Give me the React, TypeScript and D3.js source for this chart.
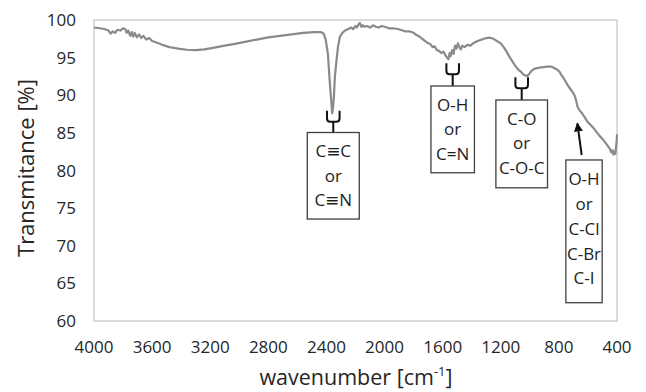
import React from "react";
import * as d3 from "d3";

const wavenumbers: number[] = [
  4000, 3960, 3930, 3900, 3885, 3870, 3855, 3840, 3820, 3800, 3785, 3775, 3765, 3750, 3740, 3730, 3720, 3705, 3690, 3675,
  3660, 3640, 3620, 3600, 3570, 3530, 3480, 3420, 3360, 3300, 3240, 3180, 3100, 3040, 2960, 2880, 2800, 2720, 2640, 2560,
  2480, 2440, 2420, 2405, 2390, 2378, 2368, 2360, 2354, 2348, 2342, 2334, 2320, 2307, 2290, 2272, 2250, 2230, 2215, 2200,
  2190, 2180, 2170, 2160, 2150, 2140, 2120, 2100, 2080, 2060, 2040, 2020, 2000, 1970, 1940, 1910, 1890, 1860, 1830, 1800,
  1780, 1760, 1740, 1720, 1700, 1685, 1670, 1655, 1640, 1625, 1610, 1595, 1580, 1570, 1560, 1552, 1545, 1535, 1525, 1515,
  1505, 1495, 1485, 1475, 1465, 1450, 1430, 1410, 1390, 1360, 1330, 1300, 1275, 1250, 1225, 1200, 1180, 1160, 1140, 1120,
  1100, 1080, 1060, 1040, 1020, 1005, 990, 970, 950, 920, 880, 850, 830, 810, 795, 780, 765, 750, 735, 720,
  705, 690, 680, 672, 664, 655, 640, 620, 600, 580, 560, 540, 520, 500, 480, 465, 450, 440, 430, 425,
  418, 412, 406, 402, 400,
];

const transmittance: number[] = [
  99.0, 98.9, 98.8, 98.6, 98.2, 98.5, 98.3, 98.7, 98.6, 98.9, 98.8, 98.3, 98.6, 97.9, 98.4, 97.8, 98.3, 97.7, 98.1, 97.6,
  97.9, 97.4, 97.6, 97.2, 97.0, 96.7, 96.4, 96.2, 96.05, 96.0, 96.1, 96.3, 96.6, 96.8, 97.1, 97.4, 97.7, 97.9, 98.1, 98.3,
  98.4, 98.4, 98.2, 97.4, 95.5, 92.0, 89.5, 87.6, 88.5, 90.0, 92.5, 94.0, 96.5, 97.8, 98.3, 98.6, 98.8, 99.0, 98.8, 99.2,
  99.0, 99.4, 99.6, 99.1, 99.3, 99.1, 99.2, 99.0, 99.3, 99.1, 99.0, 99.2, 99.1, 98.9, 98.9, 98.8, 98.7, 98.5, 98.5, 98.3,
  98.0, 97.8, 97.5, 97.2, 96.9, 96.8, 96.4, 96.5, 96.0, 95.9, 95.6, 95.8, 95.3, 95.0, 94.8, 95.6, 95.2, 96.0, 95.5, 96.6,
  96.2, 96.9, 96.4, 96.1, 96.6, 96.4, 96.7, 96.6, 96.9, 97.2, 97.4, 97.6, 97.65, 97.5, 97.2, 96.9, 96.4, 95.8, 95.1, 94.5,
  93.9, 93.4, 93.1, 92.7, 92.55, 92.8, 93.2, 93.5, 93.6, 93.7, 93.8, 93.8, 93.6, 93.4, 93.1, 92.6, 92.2, 91.7, 91.2, 90.8,
  90.4, 89.9, 89.2, 88.5, 88.2, 87.9, 87.6, 87.0, 86.4, 86.0, 85.6, 85.1, 84.6, 84.2, 83.7, 83.3, 82.9, 82.4, 82.7, 82.1,
  82.5, 82.2, 83.2, 84.0, 84.8,
];

const xTicks: number[] = [4000, 3600, 3200, 2800, 2400, 2000, 1600, 1200, 800, 400];
const yTicks: number[] = [60, 65, 70, 75, 80, 85, 90, 95, 100];

// fork annotations: wavenumber of fork, transmittance of fork top, box top, box bottom, text lines
const forkWn: number[] = [2353, 1531, 1056];
const forkTopT: number[] = [87.95, 94.25, 92.4];
const boxTopT: number[] = [85.05, 91.23, 89.37];
const boxBottomT: number[] = [73.55, 79.7, 77.7];
const forkLabels: string[][] = [
  ["C≡C", "or", "C≡N"],
  ["O-H", "or", "C=N"],
  ["C-O", "or", "C-O-C"],
];
// arrow annotation
const arrowTip = { wn: 673, t: 86.27 };
const arrowTail = { wn: 643, t: 82.06 };
const arrowBoxWn = 627;
const arrowBoxTopT = 81.4;
const arrowBoxBottomT = 62.43;
const arrowLabels: string[] = ["O-H", "or", "C-Cl", "C-Br", "C-I"];

const W = 646;
const H = 392;
const plot = { left: 94, right: 617, top: 20, bottom: 321 };
const boxWidths = [52, 43.5, 51.6];
const arrowBoxWidth = 36.3;
const FONT = "'Open Sans', 'DejaVu Sans', sans-serif";

export default function App() {
  const x = d3.scaleLinear().domain([4000, 400]).range([plot.left, plot.right]);
  const y = d3.scaleLinear().domain([60, 100]).range([plot.bottom, plot.top]);
  const pts: [number, number][] = wavenumbers.map((w, i) => [w, transmittance[i]]);
  const line = d3
    .line<[number, number]>()
    .x((d) => x(d[0]))
    .y((d) => y(d[1]))
    .curve(d3.curveLinear);

  const lineGap = 24.5;
  const firstOffset = 18.8;

  return (
    <svg
      width={W}
      height={H}
      style={{ position: "absolute", left: 0, top: 0, background: "#fff" }}
      fontFamily={FONT}
    >
      <defs>
        <marker id="ah" viewBox="0 0 10 10" refX="9" refY="5" markerWidth="4.5" markerHeight="5" orient="auto">
          <path d="M0,0 L10,5 L0,10 z" fill="#111" />
        </marker>
      </defs>
      <rect
        x={plot.left}
        y={plot.top}
        width={plot.right - plot.left}
        height={plot.bottom - plot.top}
        fill="none"
        stroke="#c4c4c4"
        strokeWidth={1.2}
      />
      {yTicks.map((t) => (
        <text key={"y" + t} x={76} y={y(t)} dy="0.36em" textAnchor="end" fontSize={17} fill="#262626">
          {t}
        </text>
      ))}
      {xTicks.map((t) => (
        <text key={"x" + t} x={x(t)} y={353} textAnchor="middle" fontSize={17} fill="#262626">
          {t}
        </text>
      ))}
      <text transform="translate(34,168) rotate(-90)" textAnchor="middle" fontSize={22} fill="#262626">
        Transmitance [%]
      </text>
      <text x={356} y={385} textAnchor="middle" fontSize={21.5} fill="#262626">
        wavenumber [cm
        <tspan fontSize={13} dy={-9}>-1</tspan>
        <tspan dy={9}>]</tspan>
      </text>
      <path d={line(pts) || ""} fill="none" stroke="#8a8a8a" strokeWidth={2.2} strokeLinejoin="round" />
      {forkWn.map((wn, i) => {
        const cx = x(wn);
        const top = y(forkTopT[i]);
        const bTop = y(boxTopT[i]);
        const bBot = y(boxBottomT[i]);
        const bw = boxWidths[i];
        const cupBottom = top + 11;
        return (
          <g key={"f" + i}>
            <path
              d={`M${cx - 6.3},${top} V${top + 7.5} Q${cx - 6.3},${cupBottom} ${cx - 3},${cupBottom} H${cx + 3} Q${cx + 6.3},${cupBottom} ${cx + 6.3},${top + 7.5} V${top} M${cx},${cupBottom} V${bTop}`}
              fill="none"
              stroke="#111"
              strokeWidth={2}
            />
            <rect x={cx - bw / 2} y={bTop} width={bw} height={bBot - bTop} fill="#fff" stroke="#404040" strokeWidth={1.3} />
            {forkLabels[i].map((s, j) => (
              <text
                key={j}
                x={cx}
                y={bTop + firstOffset + j * lineGap}
                dy="0.36em"
                textAnchor="middle"
                fontSize={17}
                fill="#1e1e1e"
              >
                {s}
              </text>
            ))}
          </g>
        );
      })}
      <g>
        <line
          x1={x(arrowTail.wn)}
          y1={y(arrowTail.t)}
          x2={x(arrowTip.wn)}
          y2={y(arrowTip.t)}
          stroke="#111"
          strokeWidth={2}
          markerEnd="url(#ah)"
        />
        <rect
          x={x(arrowBoxWn) - arrowBoxWidth / 2}
          y={y(arrowBoxTopT)}
          width={arrowBoxWidth}
          height={y(arrowBoxBottomT) - y(arrowBoxTopT)}
          fill="#fff"
          stroke="#404040"
          strokeWidth={1.3}
        />
        {arrowLabels.map((s, j) => (
          <text
            key={j}
            x={x(arrowBoxWn)}
            y={y(arrowBoxTopT) + 19.3 + j * 24.75}
            dy="0.36em"
            textAnchor="middle"
            fontSize={17}
            fill="#1e1e1e"
          >
            {s}
          </text>
        ))}
      </g>
    </svg>
  );
}
